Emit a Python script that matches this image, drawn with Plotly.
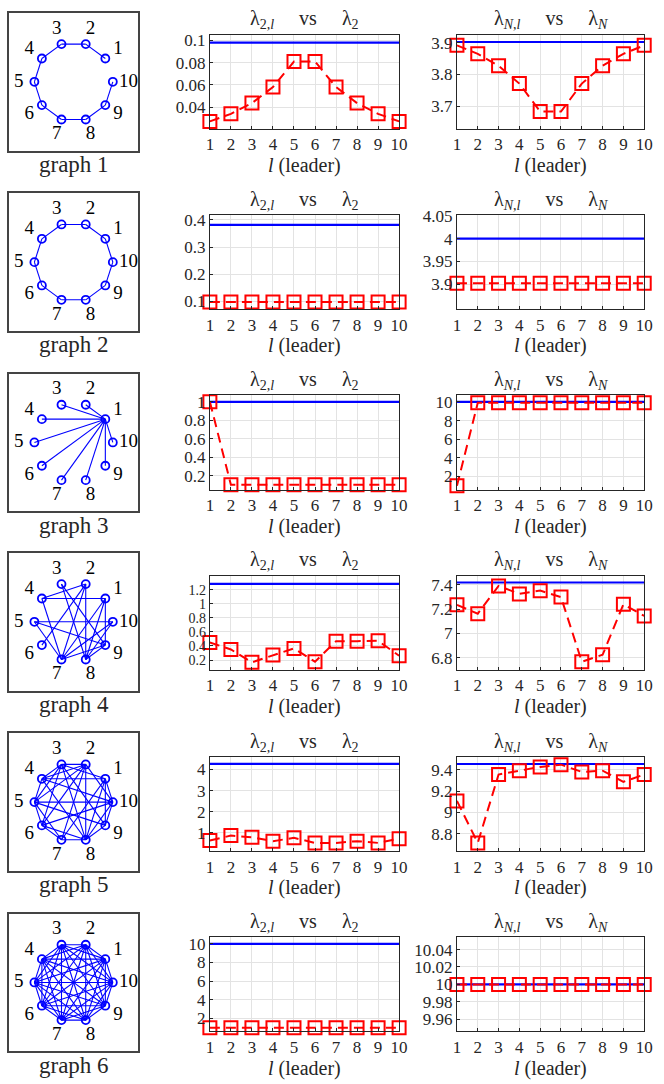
import plotly.graph_objects as go
import numpy as np

W, H = 664, 1084
FONT = "Liberation Serif"
INK = "#262626"

leaders = [1, 2, 3, 4, 5, 6, 7, 8, 9, 10]
node_ids = [1, 2, 3, 4, 5, 6, 7, 8, 9, 10]

edges_g1 = [(1, 2), (2, 3), (3, 4), (4, 5), (5, 6), (6, 7), (7, 8), (8, 9), (9, 10)]
edges_g2 = [(1, 2), (2, 3), (3, 4), (4, 5), (5, 6), (6, 7), (7, 8), (8, 9), (9, 10), (10, 1)]
edges_g3 = [(1, 2), (1, 3), (1, 4), (1, 5), (1, 6), (1, 7), (1, 8), (1, 9), (1, 10)]
edges_g4 = [(1, 4), (1, 9), (1, 7), (1, 8), (2, 4), (2, 6), (2, 7), (2, 8), (3, 8), (3, 9),
            (4, 7), (5, 9), (5, 10), (5, 7), (7, 9), (7, 10), (8, 10), (8, 9)]
edges_g5 = [(1, 3), (1, 4), (1, 7), (1, 10), (1, 9), (2, 3), (2, 4), (2, 5), (2, 6), (2, 7), (2, 8),
            (2, 10), (3, 4), (3, 5), (3, 6), (3, 8), (3, 9), (4, 5), (4, 8), (4, 10), (5, 6),
            (5, 7), (5, 9), (5, 10), (6, 7), (6, 8), (6, 10), (7, 8), (8, 9), (8, 10), (9, 10), (1, 8)]
edges_g6 = [(1, 2), (1, 3), (1, 4), (1, 5), (1, 6), (1, 7), (1, 8), (1, 9), (1, 10),
            (2, 3), (2, 4), (2, 5), (2, 6), (2, 7), (2, 8), (2, 9), (2, 10),
            (3, 4), (3, 5), (3, 6), (3, 7), (3, 8), (3, 9), (3, 10),
            (4, 5), (4, 6), (4, 7), (4, 8), (4, 9), (4, 10),
            (5, 6), (5, 7), (5, 8), (5, 9), (5, 10),
            (6, 7), (6, 8), (6, 9), (6, 10),
            (7, 8), (7, 9), (7, 10),
            (8, 9), (8, 10),
            (9, 10)]
graph_edges = [edges_g1, edges_g2, edges_g3, edges_g4, edges_g5, edges_g6]
graph_names = ["graph 1", "graph 2", "graph 3", "graph 4", "graph 5", "graph 6"]

# lambda_2 of each graph and lambda_{2,l} per leader
lam2 = [0.0979, 0.382, 1.0, 1.285, 4.27, 10.0]
lam2_lead = [
    [0.0273, 0.0341, 0.0437, 0.0581, 0.0810, 0.0810, 0.0581, 0.0437, 0.0341, 0.0273],
    [0.0979, 0.0979, 0.0979, 0.0979, 0.0979, 0.0979, 0.0979, 0.0979, 0.0979, 0.0979],
    [1.0, 0.101, 0.101, 0.101, 0.101, 0.101, 0.101, 0.101, 0.101, 0.101],
    [0.449, 0.350, 0.167, 0.270, 0.365, 0.176, 0.468, 0.468, 0.473, 0.260],
    [0.64, 0.875, 0.80, 0.61, 0.77, 0.53, 0.53, 0.61, 0.53, 0.73],
    [1.0, 1.0, 1.0, 1.0, 1.0, 1.0, 1.0, 1.0, 1.0, 1.0],
]
# lambda_N of each graph and lambda_{N,l} per leader
lamN = [3.9021, 4.0, 10.0, 7.42, 9.452, 10.0]
lamN_lead = [
    [3.8916, 3.8649, 3.8271, 3.7709, 3.6825, 3.6825, 3.7709, 3.8271, 3.8649, 3.8916],
    [3.9021, 3.9021, 3.9021, 3.9021, 3.9021, 3.9021, 3.9021, 3.9021, 3.9021, 3.9021],
    [1.0, 9.899, 9.899, 9.899, 9.899, 9.899, 9.899, 9.899, 9.899, 9.899],
    [7.236, 7.163, 7.392, 7.326, 7.353, 7.300, 6.767, 6.824, 7.240, 7.144],
    [9.108, 8.717, 9.354, 9.390, 9.425, 9.446, 9.378, 9.390, 9.286, 9.354],
    [10.0, 10.0, 10.0, 10.0, 10.0, 10.0, 10.0, 10.0, 10.0, 10.0],
]

lam2_ranges = [[0.0206, 0.105], [0.071, 0.418], [0.05, 1.07], [0.06, 1.40], [0.14, 4.59], [0.6, 10.7]]
lam2_ticks = [[0.04, 0.06, 0.08, 0.1], [0.1, 0.2, 0.3, 0.4], [0.2, 0.4, 0.6, 0.8, 1],
              [0.2, 0.4, 0.6, 0.8, 1, 1.2], [1, 2, 3, 4], [2, 4, 6, 8, 10]]
lam2_ticktext = [["0.04", "0.06", "0.08", "0.1"], ["0.1", "0.2", "0.3", "0.4"],
                 ["0.2", "0.4", "0.6", "0.8", "1"], ["0.2", "0.4", "0.6", "0.8", "1", "1.2"],
                 ["1", "2", "3", "4"], ["2", "4", "6", "8", "10"]]
lamN_ranges = [[3.628, 3.925], [3.845, 4.052], [0.6, 10.7], [6.70, 7.476], [8.64, 9.517], [9.946, 10.054]]
lamN_ticks = [[3.7, 3.8, 3.9], [3.9, 3.95, 4, 4.05], [2, 4, 6, 8, 10],
              [6.8, 7, 7.2, 7.4], [8.8, 9, 9.2, 9.4], [9.96, 9.98, 10, 10.02, 10.04]]
lamN_ticktext = [["3.7", "3.8", "3.9"], ["3.9", "3.95", "4", "4.05"], ["2", "4", "6", "8", "10"],
                 ["6.8", "7", "7.2", "7.4"], ["8.8", "9", "9.2", "9.4"],
                 ["9.96", "9.98", "10", "10.02", "10.04"]]

# ---------------- layout geometry (pixels) ----------------
box_tops = [5, 187, 369, 550, 732, 914]
box_h = 139
box_x = (5, 137)
plot_tops = [27, 209, 391, 573, 756, 938]
plot_h = 95
col2_x = (210, 403)
col3_x = (462, 653)


def fx(p):
    return p / W


def fy(p):
    return 1 - p / H


fig = go.Figure()
layout = dict(
    width=W, height=H, margin=dict(l=0, r=0, t=0, b=0),
    paper_bgcolor="white", plot_bgcolor="white", showlegend=False,
    font=dict(family=FONT, size=17, color=INK),
)
annotations = []

# node positions on a circle (node 10 at angle 0, counter-clockwise)
R_NODE = 40.0
R_LABEL = 56.0
ang = {k: np.deg2rad(36.0 * k) for k in node_ids}
pos = {k: (R_NODE * np.cos(ang[k]), R_NODE * np.sin(ang[k])) for k in node_ids}
lpos = {k: (R_LABEL * np.cos(ang[k]), R_LABEL * np.sin(ang[k])) for k in node_ids}

SP = "\u00a0" * 5

for r in range(6):
    gi = 3 * r + 1
    ai = 3 * r + 2
    bi = 3 * r + 3

    # ---- graph drawing ----
    xs, ys = [], []
    for a, b in graph_edges[r]:
        xs += [pos[a][0], pos[b][0], None]
        ys += [pos[a][1], pos[b][1], None]
    fig.add_trace(go.Scatter(x=xs, y=ys, mode="lines", line=dict(color="#0000ff", width=1.1),
                             xaxis=f"x{gi}", yaxis=f"y{gi}", hoverinfo="skip"))
    fig.add_trace(go.Scatter(x=[pos[k][0] for k in node_ids], y=[pos[k][1] for k in node_ids],
                             mode="markers",
                             marker=dict(symbol="circle-open", size=8, color="#0000ff",
                                         line=dict(width=1.8, color="#0000ff")),
                             xaxis=f"x{gi}", yaxis=f"y{gi}", cliponaxis=False))
    fig.add_trace(go.Scatter(x=[lpos[k][0] for k in node_ids], y=[lpos[k][1] for k in node_ids],
                             mode="text", text=[str(k) for k in node_ids],
                             textfont=dict(family=FONT, size=19, color="black"),
                             textposition="middle center",
                             xaxis=f"x{gi}", yaxis=f"y{gi}", cliponaxis=False))
    bt = box_tops[r]
    layout[f"xaxis{gi}"] = dict(domain=[fx(box_x[0]), fx(box_x[1])], range=[-66, 66],
                                showgrid=False, zeroline=False, showticklabels=False, ticks="",
                                showline=True, mirror=True, linecolor="#444444", linewidth=1.5,
                                anchor=f"y{gi}", fixedrange=True)
    layout[f"yaxis{gi}"] = dict(domain=[fy(bt + box_h), fy(bt)], range=[-69.5, 69.5],
                                showgrid=False, zeroline=False, showticklabels=False, ticks="",
                                showline=True, mirror=True, linecolor="#444444", linewidth=1.5,
                                anchor=f"x{gi}", fixedrange=True)
    annotations.append(dict(text=graph_names[r], x=fx((box_x[0] + box_x[1]) / 2),
                            y=fy(bt + box_h + 14), xref="paper", yref="paper",
                            showarrow=False, font=dict(family=FONT, size=23, color=INK),
                            xanchor="center", yanchor="middle"))

    pt = plot_tops[r]
    for idx, (cx, base, lead, yr, tv, tt, title) in enumerate([
        (col2_x, lam2[r], lam2_lead[r], lam2_ranges[r], lam2_ticks[r], lam2_ticktext[r],
         "λ<sub>2,<i>l</i></sub>" + SP + "vs" + SP + "λ<sub>2</sub>"),
        (col3_x, lamN[r], lamN_lead[r], lamN_ranges[r], lamN_ticks[r], lamN_ticktext[r],
         "λ<sub><i>N</i>,<i>l</i></sub>" + SP + "vs" + SP + "λ<sub><i>N</i></sub>"),
    ]):
        ax = ai if idx == 0 else bi
        fig.add_trace(go.Scatter(x=[leaders[0], leaders[-1]], y=[base, base], mode="lines",
                                 line=dict(color="#0000ff", width=2.2),
                                 xaxis=f"x{ax}", yaxis=f"y{ax}"))
        fig.add_trace(go.Scatter(x=leaders, y=lead, mode="lines+markers",
                                 line=dict(color="#ff0000", width=2, dash="10px,6px"),
                                 marker=dict(symbol="square-open", size=13, color="#ff0000",
                                             line=dict(width=2, color="#ff0000")),
                                 xaxis=f"x{ax}", yaxis=f"y{ax}", cliponaxis=False))
        tick_sz = 14 if len(tv) > 5 else 17
        layout[f"xaxis{ax}"] = dict(domain=[fx(cx[0]), fx(cx[1])], range=[1, 10],
                                    tickvals=leaders, ticktext=[str(v) for v in leaders],
                                    showgrid=True, gridcolor="#e3e3e3", gridwidth=1,
                                    zeroline=False, showline=True, mirror=True,
                                    linecolor=INK, linewidth=1, ticks="inside", ticklen=3,
                                    tickcolor=INK, tickfont=dict(family=FONT, size=17, color=INK),
                                    anchor=f"y{ax}", fixedrange=True)
        layout[f"yaxis{ax}"] = dict(domain=[fy(pt + plot_h), fy(pt)], range=yr,
                                    tickvals=tv, ticktext=tt,
                                    showgrid=True, gridcolor="#e3e3e3", gridwidth=1,
                                    zeroline=False, showline=True, mirror=True,
                                    linecolor=INK, linewidth=1, ticks="inside", ticklen=3,
                                    tickcolor=INK, tickfont=dict(family=FONT, size=tick_sz, color=INK),
                                    anchor=f"x{ax}", fixedrange=True)
        annotations.append(dict(text=title, x=fx((cx[0] + cx[1]) / 2), y=fy(pt - 15),
                                xref="paper", yref="paper", showarrow=False,
                                font=dict(family=FONT, size=20, color=INK),
                                xanchor="center", yanchor="middle"))
        annotations.append(dict(text="<i>l</i> (leader)", x=fx((cx[0] + cx[1]) / 2),
                                y=fy(pt + plot_h + 37), xref="paper", yref="paper",
                                showarrow=False, font=dict(family=FONT, size=20, color=INK),
                                xanchor="center", yanchor="middle"))

layout["annotations"] = annotations
fig.update_layout(**layout)
fig.write_html("out.html", config={"displayModeBar": False},
               post_script="document.body.style.margin='0px';")
